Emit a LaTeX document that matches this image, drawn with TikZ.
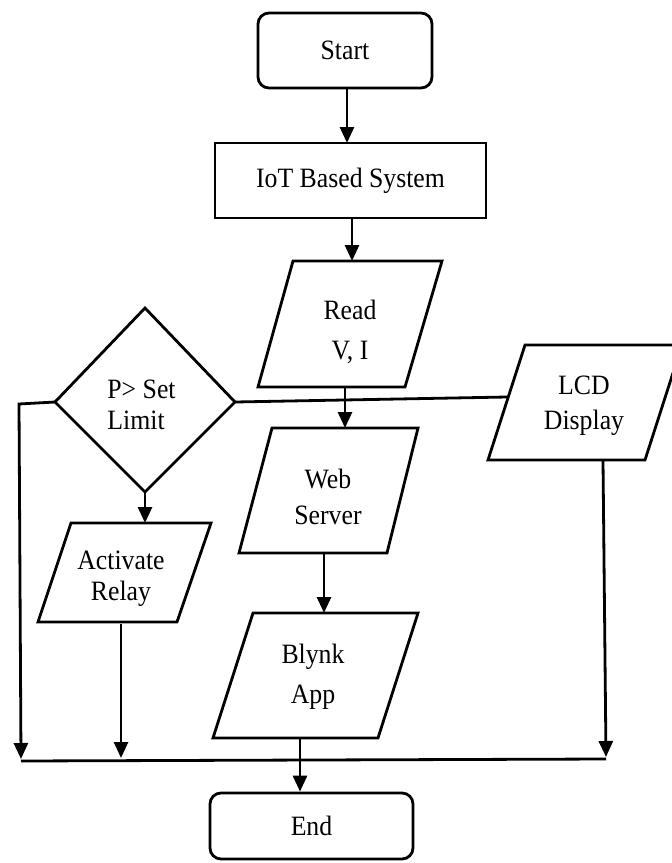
\documentclass[tikz,border=0pt]{standalone}
\usepackage{fontspec}
\setmainfont{Liberation Serif}[FakeStretch=0.92]
\usetikzlibrary{arrows.meta}
\begin{document}
\begin{tikzpicture}[x=1pt,y=-1pt,line width=2.8pt,line join=miter,
  flow/.style={-{Triangle[length=16pt,width=14pt]}},
  lbl/.style={font=\fontsize{28}{#1}\selectfont,align=center,inner sep=0pt},
  lbl/.default=36,
  term/.style={draw,rounded corners=11pt,lbl},
  proc/.style={draw,lbl}]
\useasboundingbox (0,0) rectangle (672,863);

% terminals and process box
\node[term,minimum width=174pt,minimum height=75pt] (start) at (345,50.5) {Start};
\node[proc,minimum width=271pt,minimum height=75pt] (iot) at (350.5,180.5) {IoT Based System};
\node[term,minimum width=203pt,minimum height=66pt] (end) at (311.5,826) {End};

% input/output parallelograms
\draw (293,261) -- (442,261) -- (405,387) -- (258,387) -- cycle;
\node[lbl=40] (read) at (350,332) {Read\\V, I};
\draw (272,428) -- (418,428) -- (387,553) -- (239,553) -- cycle;
\node[lbl=36] (web) at (328,497) {Web\\Server};
\draw (253,613) -- (418,613) -- (378,738) -- (213,738) -- cycle;
\node[lbl=40] (blynk) at (313,677) {Blynk\\App};
\draw (71,523) -- (211,523) -- (177,622) -- (38,622) -- cycle;
\node[lbl=31] (relay) at (121,579) {Activate\\Relay};
\draw (525,345) -- (682,345) -- (645,460) -- (488,460) -- cycle;
\node[lbl=35] (lcd) at (584,406) {LCD\\Display};

% decision
\draw (145,308) -- (235,402) -- (145,492) -- (55,402) -- cycle;
\node[lbl=31,align=left,anchor=west] (limit) at (106,405) {P> Set\\Limit};

% anchor points of the drawn shapes
\coordinate (readT) at (352,261);
\coordinate (readB) at (345,387);
\coordinate (webT) at (345,428);
\coordinate (webB) at (324,553);
\coordinate (blynkT) at (324,613);
\coordinate (blynkB) at (300,738);
\coordinate (dT) at (145,308);
\coordinate (dL) at (55,402);
\coordinate (dR) at (235,402);
\coordinate (dB) at (145,492);
\coordinate (relayT) at (145,523);
\coordinate (relayB) at (121,624);
\coordinate (lcdL) at (507,397);
\coordinate (lcdB) at (603,460);
\coordinate (cornerL) at (19,404);
\coordinate (busL) at (21,761);
\coordinate (busR) at (606,759);

% connectors
\draw[flow] (start.south -| 347,0) -- (347,143);
\draw[flow] (iot.south -| readT) -- (readT);
\draw[flow] (readB) -- (webT);
\draw[flow] (webB) -- (blynkT);
\draw[flow] (blynkB) -- (blynkB |- end.north);
\draw[flow] (dB) -- (relayT);
\draw (dR) -- (lcdL);
\draw[flow] (dL) -- (cornerL) -- (busL |- 0,759);
\draw[flow] (relayB) -- (121,758);
\draw[flow] (lcdB) -- (busR |- 0,757);
\draw (busL) -- (busR);
\end{tikzpicture}
\end{document}
